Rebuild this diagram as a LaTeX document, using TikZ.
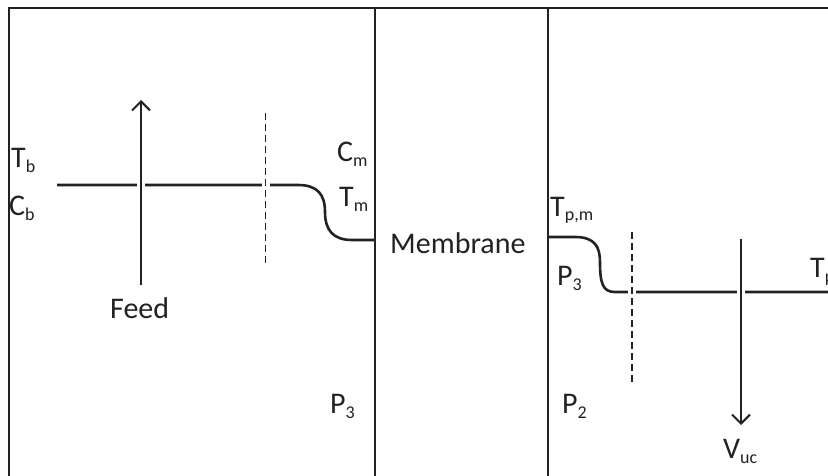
\documentclass[tikz,border=0pt]{standalone}
\usepackage{fontspec}
\setmainfont{Carlito}
\usetikzlibrary{arrows.meta}
\definecolor{ink}{HTML}{222222}
\newcommand\sbx[1]{\raisebox{-5pt}{\fontsize{18}{18}\selectfont #1}}
\tikzset{
  proc/.style={line width=2.6pt, draw=ink},
  flowline/.style={line width=2.6pt, draw=ink, -{Straight Barb[length=9pt,width=18pt,line width=2pt]}},
  halo/.style={draw=white, line width=8pt},
  dashln/.style={line width=1.3pt, draw=ink, dash pattern=on 7pt off 4pt},
  frameln/.style={line width=2pt, draw=ink},
  memln/.style={line width=1.3pt, draw=ink},
  lbl/.style={text=ink, inner sep=0pt, anchor=base west, font=\fontsize{30}{30}\selectfont}
}
\begin{document}
\begin{tikzpicture}[x=1pt,y=-1pt]
\useasboundingbox (0,0) rectangle (828,476);
\fill[white] (0,0) rectangle (828,476);
\clip (0,0) rectangle (828,476);
% frame
\coordinate (fTL) at (8.5,8);
\coordinate (fTR) at (828,8);
\coordinate (fBL) at (8.5,476);
\draw[frameln] (fBL) -- (fTL) -- (fTR);
% membrane box
\coordinate (mBL) at (375,476);
\coordinate (mTL) at (375,8);
\coordinate (mTR) at (548,8);
\coordinate (mBR) at (548,476);
\draw[memln] (mBL) -- (mTL) -- (mTR) -- (mBR);
% left profile
\coordinate (lA) at (57,185);
\coordinate (lB) at (298,185);
\coordinate (lC) at (325,212);
\coordinate (lD) at (352,240);
\coordinate (lE) at (375,240);
\draw[proc] (lA) -- (lB) .. controls (318,185) and (325,195) .. (lC)
  .. controls (325,230) and (333,240) .. (lD) -- (lE);
% right profile
\coordinate (rA) at (548,237);
\coordinate (rB) at (575,237);
\coordinate (rC) at (600,262);
\coordinate (rD) at (615,292);
\coordinate (rE) at (828,292);
\draw[proc] (rA) -- (rB) .. controls (595,237) and (600,247) .. (rC)
  .. controls (600,284) and (603,292) .. (rD) -- (rE);
% feed arrow
\coordinate (feedB) at (141,285);
\coordinate (feedT) at (141,100);
\draw[halo] (feedB) -- (feedT);
\draw[flowline] (feedB) -- (feedT);
% left dashed boundary
\coordinate (dlT) at (265.5,113);
\coordinate (dlB) at (265.5,265);
\draw[halo] (dlT) -- (dlB);
\draw[dashln] (dlT) -- (dlB);
% right dashed boundary
\coordinate (drT) at (632,232);
\coordinate (drB) at (632,382);
\draw[halo] (drT) -- (drB);
\draw[dashln] (drT) -- (drB);
% permeate arrow
\coordinate (vT) at (741,239);
\coordinate (vB) at (741,425);
\draw[halo] (vT) -- (vB);
\draw[flowline] (vT) -- (vB);
% labels
\node[lbl] (Tb) at (11,168) {T\sbx{b}};
\node[lbl] (Cb) at (9,215) {C\sbx{b}};
\node[lbl] (feed) at (110,318) {Feed};
\node[lbl] (Cm) at (337,162) {C\sbx{m}};
\node[lbl] (Tm) at (339,207) {T\sbx{m}};
\node[lbl] (memb) at (390,253) {Membrane};
\node[lbl] (P3l) at (330,413) {P\sbx{3}};
\node[lbl] (Tpm) at (550,216) {T\sbx{p,m}};
\node[lbl] (P3r) at (557,285) {P\sbx{3}};
\node[lbl] (P2) at (562,413) {P\sbx{2}};
\node[lbl] (Vuc) at (723,458) {V\sbx{uc}};
\node[lbl] (Tp) at (810,277) {T\sbx{p}};
\end{tikzpicture}
\end{document}
